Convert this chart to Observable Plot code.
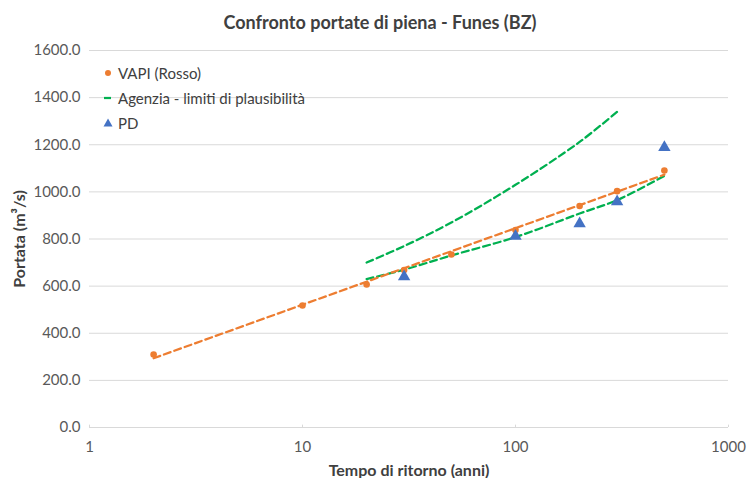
<!DOCTYPE html>
<html>
<head>
<meta charset="utf-8">
<script src="https://cdn.jsdelivr.net/npm/d3@7"></script>
<script src="https://cdn.jsdelivr.net/npm/@observablehq/plot@0.6"></script>
<style>
  body { margin: 0; background: #fff; }
  #chart { position: relative; width: 748px; height: 478px; overflow: hidden; font-family: Lato, "Open Sans", sans-serif; }
  #title { height: 40px; line-height: 44px; text-align: center; padding-left: 12px; box-sizing: border-box;
           font-size: 18px; font-weight: 700; color: #404040; }
  #legend { position: absolute; left: 101px; top: 60px; font-size: 15px; color: #404040; }
  #legend .row { height: 25px; display: flex; align-items: center; }
  #legend svg { width: 14px; height: 14px; margin-right: 3px; flex: none; }
</style>
</head>
<body>
<div id="chart">
  <div id="title"></div>
  <div id="legend"></div>
</div>
<script>
// Flood peak discharges at Funes (BZ) versus return period
const chartTitle = "Confronto portate di piena - Funes (BZ)";
const xLabel = "Tempo di ritorno (anni)";
const yLabel = "Portata (m³/s)";

const xTicks = [1, 10, 100, 1000];
const yTicks = [0, 200, 400, 600, 800, 1000, 1200, 1400, 1600];

// VAPI (Rosso) estimates
const vapiT = [2, 10, 20, 30, 50, 100, 200, 300, 500];
const vapiQ = [310, 518, 607, 668, 734, 838, 940, 1003, 1091];

// logarithmic trend line of the VAPI estimates (end points)
const vapiTrendT = [2, 500];
const vapiTrendQ = [294, 1073];

// Agenzia: upper and lower plausibility limits
const upperT = [20, 30, 50, 100, 200, 300];
const upperQ = [700, 770, 870, 1030, 1212, 1340];
const lowerT = [20, 30, 50, 100, 200, 300, 500];
const lowerQ = [630, 670, 730, 808, 908, 965, 1068];

// PD estimates
const pdT = [30, 100, 200, 300, 500];
const pdQ = [640, 812, 865, 958, 1189];

const legendItems = ["VAPI (Rosso)", "Agenzia - limiti di plausibilità", "PD"];

const orange = "#ED7D31";
const green = "#00B050";
const blue = "#4472C4";

const rows = (ts, qs) => ts.map((T, i) => ({T, Q: qs[i]}));
const vapi = rows(vapiT, vapiQ);
const vapiTrend = rows(vapiTrendT, vapiTrendQ);
const upper = rows(upperT, upperQ);
const lower = rows(lowerT, lowerQ);
const pd = rows(pdT, pdQ);

const dash = {strokeWidth: 2.25, strokeDasharray: "7,4"};

const chart = Plot.plot({
  width: 748,
  height: 438,
  marginTop: 10,
  marginBottom: 51,
  marginLeft: 89,
  marginRight: 20,
  style: {fontFamily: "Lato, 'Open Sans', sans-serif", fontSize: "15px", color: "#595959", background: "transparent", overflow: "visible"},
  x: {type: "log", domain: [1, 1000]},
  y: {domain: [0, 1600]},
  marks: [
    Plot.ruleY(yTicks, {stroke: "#d9d9d9", strokeWidth: 1}),
    Plot.ruleX(xTicks, {y1: 0, y2: 10, stroke: "#d9d9d9", strokeWidth: 1}),
    Plot.axisX({ticks: xTicks, tickFormat: d => String(d), tickSize: 0, tickPadding: 14, label: null}),
    Plot.axisY({ticks: yTicks, tickFormat: d3.format(".1f"), tickSize: 0, tickPadding: 9, label: null}),
    Plot.text([xLabel], {frameAnchor: "bottom", lineAnchor: "middle", textAnchor: "middle", dy: 43, text: d => d, fontWeight: "bold", fontSize: 16, fill: "#404040"}),
    Plot.text([yLabel], {frameAnchor: "left", lineAnchor: "middle", textAnchor: "middle", dx: -70, rotate: -90, text: d => d, fontWeight: "bold", fontSize: 16, fill: "#404040"}),
    Plot.line(upper, {x: "T", y: "Q", stroke: green, curve: "catmull-rom", ...dash}),
    Plot.line(lower, {x: "T", y: "Q", stroke: green, curve: "catmull-rom", ...dash}),
    Plot.dot(vapi, {x: "T", y: "Q", r: 3.3, fill: orange, stroke: "none"}),
    Plot.line(vapiTrend, {x: "T", y: "Q", stroke: orange, ...dash}),
    Plot.dot(pd, {x: "T", y: "Q", symbol: "triangle", r: 4.6, fill: blue, stroke: "none"})
  ]
});

document.getElementById("title").textContent = chartTitle;
document.getElementById("chart").appendChild(chart);

// legend drawn inside the plot area
const symbols = [
  `<svg viewBox="0 0 14 14"><circle cx="7" cy="7" r="3" fill="${orange}"/></svg>`,
  `<svg viewBox="0 0 14 14"><line x1="3" x2="10" y1="7" y2="7" stroke="${green}" stroke-width="2.25"/></svg>`,
  `<svg viewBox="0 0 14 14"><path d="M7,2.5 L11.5,10.5 L2.5,10.5 Z" fill="${blue}"/></svg>`
];
const legend = document.getElementById("legend");
legendItems.forEach((label, i) => {
  const row = document.createElement("div");
  row.className = "row";
  row.innerHTML = symbols[i] + `<span>${label}</span>`;
  legend.appendChild(row);
});
</script>
</body>
</html>
